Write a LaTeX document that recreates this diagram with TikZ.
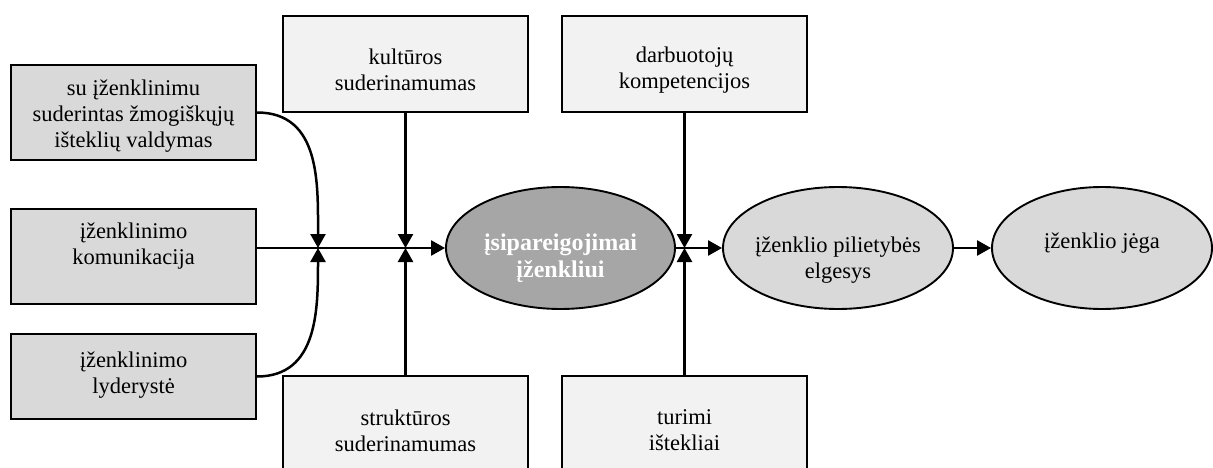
\documentclass[tikz,border=0pt]{standalone}
\usepackage{fontspec}
\setmainfont{Liberation Serif}
\usetikzlibrary{arrows.meta,shapes.geometric}
\definecolor{leftfill}{HTML}{D9D9D9}
\definecolor{sidefill}{HTML}{F2F2F2}
\definecolor{corefill}{HTML}{A6A6A6}
\definecolor{outfill}{HTML}{D9D9D9}

\begin{document}
\begin{tikzpicture}[x=1pt,y=1pt,
  driverbox/.style={draw=black, line width=2pt, fill=leftfill,
    minimum width=245pt, minimum height=95pt, inner sep=0pt},
  factorbox/.style={draw=black, line width=2pt, fill=sidefill,
    minimum width=245pt, minimum height=96pt, inner sep=0pt},
  txt/.style={align=center, font=\fontsize{22.5}{26}\selectfont, inner sep=0pt},
  coretxt/.style={align=center, text=white,
    font=\fontsize{24}{27}\selectfont\bfseries, inner sep=0pt},
  outcome/.style={ellipse, draw=black, line width=1.9pt, fill=outfill,
    minimum height=122pt, inner sep=0pt},
  flow/.style={line width=2.5pt, -{Triangle[length=14pt,width=15pt]}},
]
\clip (0,0) rectangle (1213,467);

% left column: branding drivers
\node[driverbox] (b1) at (133.5,354.5) {};
\node[driverbox] (b2) at (133.5,210.5) {};
\node[driverbox, minimum height=85pt] (b3) at (133.5,90.5) {};
\node[txt] (b1t) at (133.5,351.2) {su įženklinimu\\suderintas žmogiškųjų\\išteklių valdymas};
\node[txt] (b2t) at (133.5,220.5) {įženklinimo\\komunikacija};
\node[txt] (b3t) at (133.5,91.5) {įženklinimo\\lyderystė};

% moderating factors above and below
\node[factorbox] (kul) at (405.5,403) {};
\node[factorbox] (dar) at (684.5,403) {};
\node[factorbox] (str) at (405.5,43) {};
\node[factorbox] (tur) at (684.5,43) {};
\node[txt] (kult) at (405.5,397) {kultūros\\suderinamumas};
\node[txt] (dart) at (684.5,396.5) {darbuotojų\\kompetencijos};
\node[txt] (strt) at (405.5,36.5) {struktūros\\suderinamumas};
\node[txt] (turt) at (684.5,37) {turimi\\ištekliai};

% outcome chain
\node[outcome, fill=corefill, minimum width=229pt] (c) at (560.5,219) {};
\node[outcome, minimum width=230pt] (e2) at (838,219) {};
\node[outcome, minimum width=220pt] (e3) at (1102,219) {};
\node[coretxt] (ct) at (560.5,208.5) {įsipareigojimai\\įženkliui};
\node[txt] (e2t) at (838,207) {įženklio pilietybės\\elgesys};
\node[txt] (e3t) at (1102,224) {įženklio jėga};

% junction points on the main line
\coordinate (j1) at (318,219);
\coordinate (j2) at (kul.south |- c.west);
\coordinate (j3) at (dar.south |- c.west);

% connectors
\draw[flow] (b1.east) to[out=0,in=90,looseness=1.1] (j1);
\draw[flow] (b3.east) to[out=0,in=-90,looseness=1.1] (j1);
\draw[flow] (b2.east |- c.west) -- (c.west);
\draw[flow] (kul.south) -- (j2);
\draw[flow] (str.north) -- (j2);
\draw[flow] (dar.south) -- (j3);
\draw[flow] (tur.north) -- (j3);
\draw[flow] (c.east) -- (e2.west);
\draw[flow] (e2.east) -- (e3.west);
\end{tikzpicture}
\end{document}
